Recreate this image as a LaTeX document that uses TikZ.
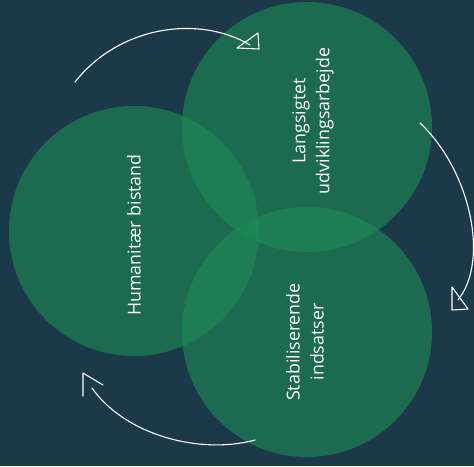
\documentclass[tikz,border=0pt]{standalone}
\usepackage{fontspec}
\setmainfont{Open Sans}
\definecolor{bgblue}{RGB}{28,57,73}
\definecolor{leafgreen}{RGB}{28,140,84}

\begin{document}
\begin{tikzpicture}[x=1pt,y=-1pt,
    field/.style={circle,fill=leafgreen,fill opacity=0.6,minimum size=250pt,inner sep=0pt},
    label/.style={text=white,rotate=90,align=center,font=\fontsize{17.8}{24}\selectfont},
    cycle/.style={draw=white,line width=1.1pt,line cap=round,line join=round}]

% background
\fill[bgblue] (0,0) rectangle (474,466);
\useasboundingbox (0,0) rectangle (474,466);

% three areas
\node[field] (help) at (134,231) {};
\node[field] (long) at (307,127) {};
\node[field] (stab) at (307,332) {};

\node[label] (helptxt) at (134,235) {Humanitær bistand};
\node[label] (longtxt) at (313,121) {Langsigtet\\udviklingsarbejde};
\node[label] (stabtxt) at (305,342) {Stabiliserende\\indsatser};

% arrows round the circles
\coordinate (a1) at (75,82);
\coordinate (a2) at (250,45);
\draw[cycle] (a1) .. controls (120,25) and (200,15) .. (a2);
\draw[cycle] (237,48) -- (258,33) -- (259,49) -- cycle;

\coordinate (b1) at (420,123);
\coordinate (b2) at (458,300);
\draw[cycle] (b1) .. controls (470,170) and (490,260) .. (b2);
\draw[cycle] (452,287) -- (452,310) -- (468,309) -- cycle;

\coordinate (c1) at (255,440);
\coordinate (c2) at (92,388);
\draw[cycle] (c1) .. controls (200,455) and (125,435) .. (c2);
\draw[cycle] (83,396) -- (83,373) -- (103,385);

\end{tikzpicture}
\end{document}
